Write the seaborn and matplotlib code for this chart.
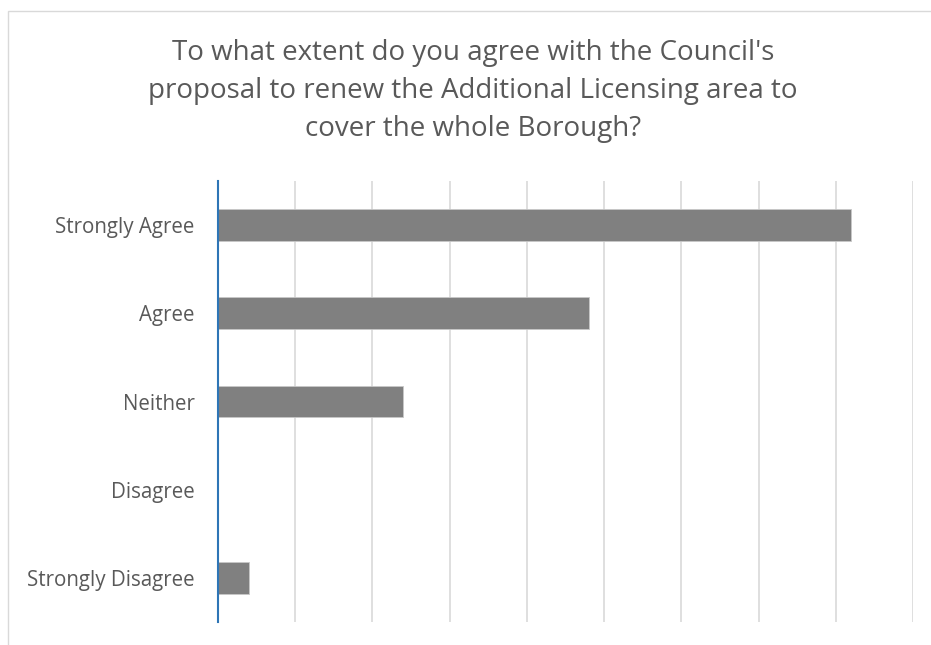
import matplotlib
matplotlib.use("Agg")
import matplotlib.pyplot as plt
import seaborn as sns
import pandas as pd
from matplotlib.patches import Rectangle

categories = ["Strongly Agree", "Agree", "Neither", "Disagree", "Strongly Disagree"]
counts = [41, 24, 12, 0, 2]
title = "To what extent do you agree with the Council's\nproposal to renew the Additional Licensing area to\ncover the whole Borough?"

sns.set_theme(style="white")
plt.rcParams['font.family'] = ['Open Sans', 'DejaVu Sans']

df = pd.DataFrame({"category": categories, "count": counts})

fig = plt.figure(figsize=(9.31, 6.45), dpi=100)
ax = fig.add_axes([218/931, 1-622/645, (913-218)/931, (622-181)/645])

sns.barplot(data=df, y="category", x="count", order=categories, color="#808080",
            saturation=1, width=0.36, ax=ax, edgecolor="#c8c8c8", linewidth=0.6)

ax.set_xlim(0, 45)
ax.set_xticks(range(0, 46, 5))
ax.set_xticklabels([])
ax.tick_params(axis='x', length=0)
ax.tick_params(axis='y', length=0, pad=17, labelsize=14.8, labelcolor="#595959")
ax.grid(axis='x', color="#d9d9d9", linewidth=1.2)
ax.set_axisbelow(True)
for s in ["top", "right", "bottom"]:
    ax.spines[s].set_visible(False)
ax.spines["left"].set_color("#2E75B6")
ax.spines["left"].set_linewidth(1.5)
ax.set_xlabel("")
ax.set_ylabel("")

fig.text(473/931, 1-91/645, title, ha="center", va="center", fontsize=20,
         color="#595959", linespacing=1.48)

fig.patches.append(Rectangle((8/931, -0.1), 1.2, 1-11/645+0.1, transform=fig.transFigure,
                             fill=False, edgecolor="#d9d9d9", linewidth=1.0))

fig.savefig("out.png", dpi=100)
